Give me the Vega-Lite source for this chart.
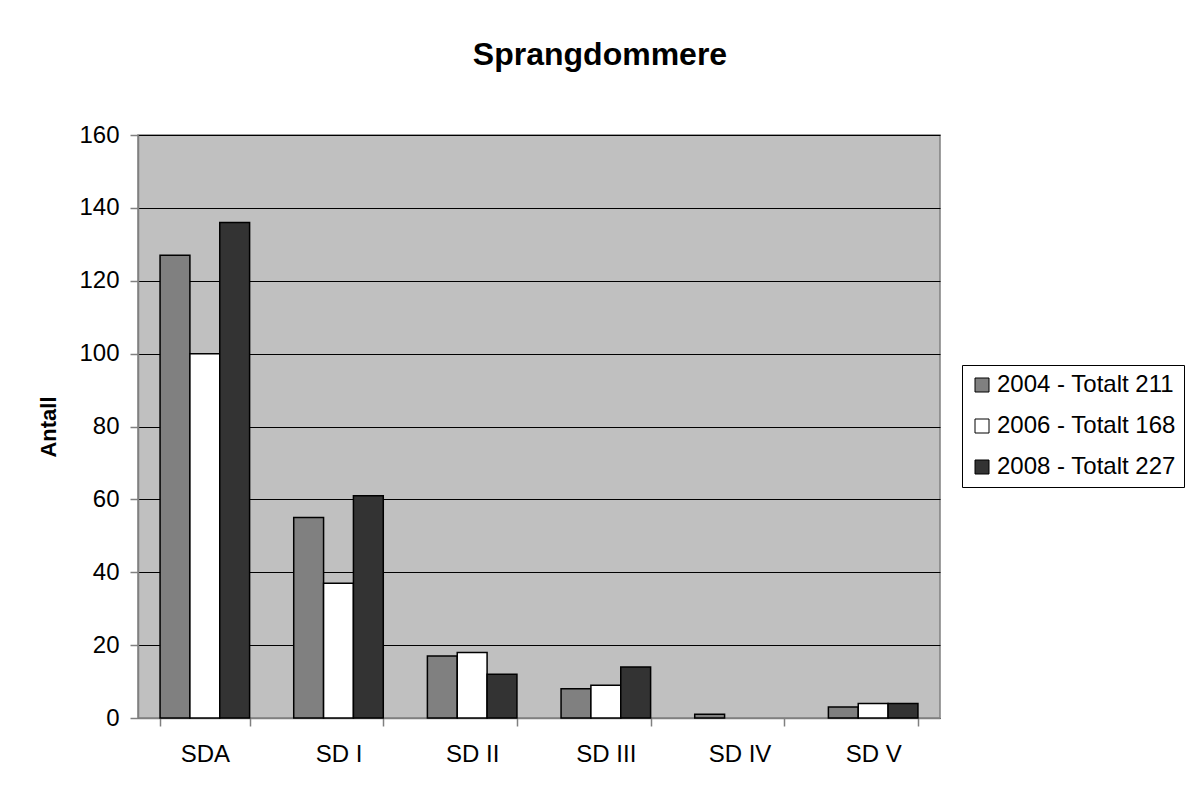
{
  "$schema": "https://vega.github.io/schema/vega-lite/v6.json",
  "width": 802,
  "height": 583,
  "autosize": "none",
  "padding": {"left": 138, "top": 135, "right": 256, "bottom": 78},
  "background": "white",
  "title": {"text": "Sprangdommere", "fontSize": 32, "fontWeight": "bold", "font": "Liberation Sans", "color": "black", "anchor": "middle", "dx": 61, "offset": 51},
  "data": {"values": [
    {"grad": "SDA", "serie": "2004 - Totalt 211", "antall": 127},
    {"grad": "SDA", "serie": "2006 - Totalt 168", "antall": 100},
    {"grad": "SDA", "serie": "2008 - Totalt 227", "antall": 136},
    {"grad": "SD I", "serie": "2004 - Totalt 211", "antall": 55},
    {"grad": "SD I", "serie": "2006 - Totalt 168", "antall": 37},
    {"grad": "SD I", "serie": "2008 - Totalt 227", "antall": 61},
    {"grad": "SD II", "serie": "2004 - Totalt 211", "antall": 17},
    {"grad": "SD II", "serie": "2006 - Totalt 168", "antall": 18},
    {"grad": "SD II", "serie": "2008 - Totalt 227", "antall": 12},
    {"grad": "SD III", "serie": "2004 - Totalt 211", "antall": 8},
    {"grad": "SD III", "serie": "2006 - Totalt 168", "antall": 9},
    {"grad": "SD III", "serie": "2008 - Totalt 227", "antall": 14},
    {"grad": "SD IV", "serie": "2004 - Totalt 211", "antall": 1},
    {"grad": "SD IV", "serie": "2006 - Totalt 168", "antall": 0},
    {"grad": "SD IV", "serie": "2008 - Totalt 227", "antall": 0},
    {"grad": "SD V", "serie": "2004 - Totalt 211", "antall": 3},
    {"grad": "SD V", "serie": "2006 - Totalt 168", "antall": 4},
    {"grad": "SD V", "serie": "2008 - Totalt 227", "antall": 4}
  ]},
  "mark": {"type": "bar", "stroke": "black", "strokeWidth": 1.5},
  "encoding": {
    "x": {"field": "grad", "type": "nominal", "sort": ["SDA", "SD I", "SD II", "SD III", "SD IV", "SD V"],
      "scale": {"paddingInner": 0.33, "paddingOuter": 0.165},
      "axis": {"title": null, "labelAngle": 0, "labelFontSize": 24, "labelFont": "Liberation Sans", "labelColor": "black", "domainColor": "#808080", "domainWidth": 1.5, "tickColor": "#808080", "tickWidth": 1.5, "tickBand": "extent", "tickSize": 8, "labelPadding": 16}},
    "xOffset": {"field": "serie", "type": "nominal", "scale": {"paddingInner": 0, "paddingOuter": 0}},
    "y": {"field": "antall", "type": "quantitative",
      "scale": {"domain": [0, 160]},
      "axis": {"title": "Antall", "titleFontSize": 22, "titleFont": "Liberation Sans", "titleFontWeight": "bold", "titleColor": "black", "titleX": -78, "values": [0, 20, 40, 60, 80, 100, 120, 140, 160], "labelFontSize": 24, "labelFont": "Liberation Sans", "labelColor": "black", "gridColor": "black", "gridOpacity": 1, "gridWidth": 1, "domainColor": "#808080", "domainWidth": 1.5, "tickColor": "#808080", "tickWidth": 1.5, "tickSize": 8, "labelPadding": 11}},
    "fill": {"field": "serie", "type": "nominal",
      "scale": {"range": ["#808080", "#ffffff", "#333333"]},
      "legend": {"title": null, "orient": "none", "legendX": 824, "legendY": 230, "labelFontSize": 24, "labelFont": "Liberation Sans", "labelColor": "black", "labelLimit": 400, "symbolType": "square", "symbolSize": 196, "symbolStrokeColor": "black", "symbolStrokeWidth": 1, "strokeColor": "black", "fillColor": "white", "padding": 8, "rowPadding": 17, "labelOffset": 3}}
  },
  "transform": [{"filter": "datum.antall > 0"}],
  "config": {"view": {"fill": "#c0c0c0", "stroke": "#808080", "strokeWidth": 1.5}}
}
